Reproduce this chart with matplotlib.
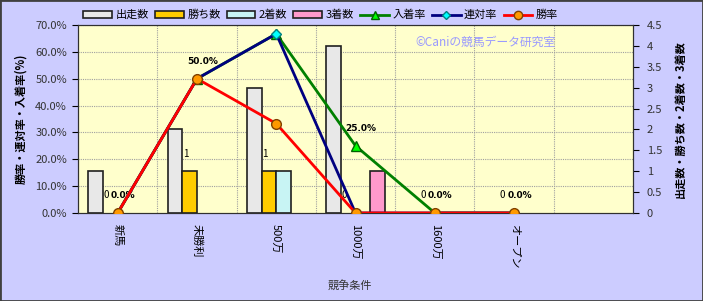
import numpy as np
import matplotlib.pyplot as plt
from matplotlib.patches import Rectangle
from matplotlib.lines import Line2D

plt.rcParams['font.family'] = ['Noto Sans CJK JP', 'DejaVu Sans']

# データ
categories = ['新馬', '未勝利', '500万', '1000万', '1600万', 'オープン', '']
starts = [1, 2, 3, 4, 0, 0]
wins = [0, 1, 1, 0, 0, 0]
seconds = [0, 0, 1, 0, 0, 0]
thirds = [0, 0, 0, 1, 0, 0]
win_rate = [0.0, 50.0, 33.3, 0.0, 0.0, 0.0]
rentai_rate = [0.0, 50.0, 66.7, 0.0, 0.0, 0.0]
place_rate = [0.0, 50.0, 66.7, 25.0, 0.0, 0.0]
rate_labels = ['0.0%', '50.0%', '', '25.0%', '0.0%', '0.0%']

bg = '#CCCCFF'
plot_bg = '#FFFFCC'

fig = plt.figure(figsize=(7.03, 3.01), dpi=100, facecolor=bg)
ax = fig.add_axes([0.111, 0.2924, 0.7895, 0.6246])
ax.set_facecolor(plot_bg)
ax2 = ax.twinx()

n = len(starts)
x = np.arange(n)
w = 0.185

# 棒グラフ(件数) - 右軸 (0件の棒は線を描かない)
cnt_max = 4.5
series = [(starts, '#E8E8E8', -1.5), (wins, '#FFCC00', -0.5),
          (seconds, '#C8F4F4', 0.5), (thirds, '#FF99CC', 1.5)]
for vals, col, off in series:
    lws = [1.2 if v > 0 else 0 for v in vals]
    ax.bar(x + off * w, vals, w, color=col, edgecolor='#202020', linewidth=lws, zorder=3)
for xi, v in zip(x, wins):
    ax.annotate(str(v), (xi - 0.5 * w, v), xytext=(-3, 9), textcoords='offset points',
                ha='center', va='bottom', fontsize=7, zorder=4)

ax.set_ylim(0, cnt_max)
ax.set_xlim(-0.5, len(categories) - 0.5)
ax.yaxis.tick_right()
ax.yaxis.set_label_position('right')
ax.set_yticks(np.arange(0, 4.51, 0.5))
ax.set_yticklabels(['0', '0.5', '1', '1.5', '2', '2.5', '3', '3.5', '4', '4.5'])
ax.tick_params(axis='y', labelsize=8, labelcolor='#333333', length=4, direction='out', pad=6)
ax.set_ylabel('出走数・勝ち数・2着数・3着数', fontsize=8, fontweight='bold', labelpad=8)

# グリッド
rate_ticks = np.arange(0, 71, 10)
for r in rate_ticks[1:]:
    ax.axhline(r / 70 * cnt_max, color='#A0A0A0', lw=0.8, ls=(0, (1, 1)), zorder=1)
for b in np.arange(0.5, len(categories) - 0.5, 1):
    ax.axvline(b, color='#A0A0A0', lw=0.8, ls=(0, (1, 1)), zorder=1)

ax.set_xticks(np.arange(len(categories)))
ax.set_xticklabels(categories, rotation=270, fontsize=8)
ax.tick_params(axis='x', length=0, pad=8)

# 折れ線(率) - 左軸
ax2.plot(x, place_rate, color='#008000', lw=2, marker='^', ms=7, mfc='#00FF00', mec='#006000', zorder=5)
ax2.plot(x, rentai_rate, color='#000080', lw=2, marker='D', ms=5, mfc='#00FFFF', mec='#008080', zorder=6)
ax2.plot(x, win_rate, color='#FF0000', lw=2, marker='o', ms=7, mfc='#FF9900', mec='#804000', zorder=7)
for xi, lab, v in zip(x, rate_labels, place_rate):
    if lab:
        ax2.annotate(lab, (xi, v), xytext=(4, 9), textcoords='offset points',
                     ha='center', va='bottom', fontsize=6.5, fontweight='bold',
                     family=['DejaVu Sans'])

ax2.set_ylim(0, 70)
ax2.yaxis.tick_left()
ax2.yaxis.set_label_position('left')
ax2.set_yticks(rate_ticks)
ax2.set_yticklabels(['%.1f%%' % t for t in rate_ticks])
ax2.tick_params(axis='y', labelsize=8, labelcolor='#333333', length=4, direction='out', pad=4)
ax2.set_ylabel('勝率・連対率・入着率(%)', fontsize=8, fontweight='bold', labelpad=6)

for a in (ax, ax2):
    for s in a.spines.values():
        s.set_color('#303030')

ax2.text(0.607, 0.905, '©Caniの競馬データ研究室', transform=ax2.transAxes,
         fontsize=8.5, color='#9999FF', va='center', ha='left')

# 凡例
handles = [
    Rectangle((0, 0), 1, 1, fc='#E8E8E8', ec='#202020', lw=1.2),
    Rectangle((0, 0), 1, 1, fc='#FFCC00', ec='#202020', lw=1.2),
    Rectangle((0, 0), 1, 1, fc='#C8F4F4', ec='#202020', lw=1.2),
    Rectangle((0, 0), 1, 1, fc='#FF99CC', ec='#202020', lw=1.2),
    Line2D([], [], color='#008000', lw=2, marker='^', ms=6, mfc='#00FF00', mec='#006000'),
    Line2D([], [], color='#000080', lw=2, marker='D', ms=4, mfc='#00FFFF', mec='#008080'),
    Line2D([], [], color='#FF0000', lw=2, marker='o', ms=6, mfc='#FF9900', mec='#804000'),
]
labels = ['出走数', '勝ち数', '2着数', '3着数', '入着率', '連対率', '勝率']
fig.legend(handles, labels, loc='center left', bbox_to_anchor=(0.112, 0.95), ncol=7,
           frameon=False, fontsize=8, handlelength=2.6, handleheight=0.6,
           handletextpad=0.3, columnspacing=0.55, borderaxespad=0)

fig.text(0.498, 1 - 285 / 301, '競争条件', ha='center', va='center', fontsize=8, color='#333333')

fig.patches.append(Rectangle((0, 0), 1, 1, transform=fig.transFigure, fill=False,
                             ec='#404040', lw=2))

fig.savefig('out.png', dpi=100, facecolor=bg)
